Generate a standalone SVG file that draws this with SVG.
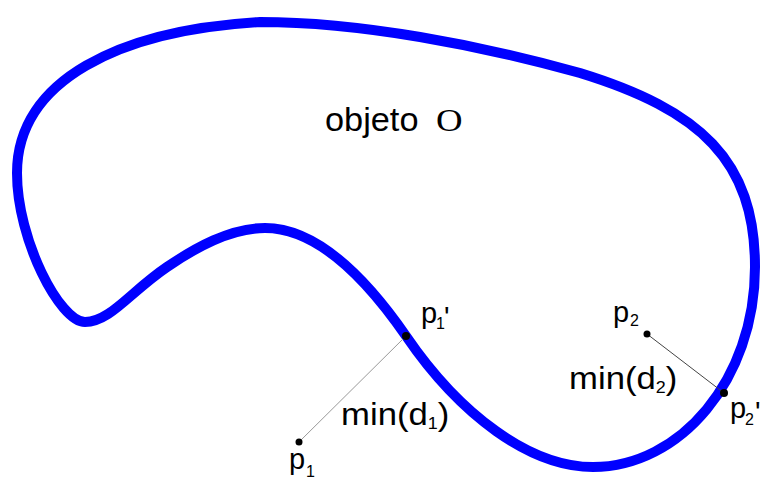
<svg xmlns="http://www.w3.org/2000/svg" width="760" height="480" viewBox="0 0 760 480">
<style>
.curve{fill:none;stroke:#0000ff;stroke-width:10;stroke-linejoin:round}
.lbl{font-family:"Liberation Sans",Arial,sans-serif;fill:#000}
.ser{font-family:"Liberation Serif","Times New Roman",serif;fill:#000}
.dot{fill:#000}
.conn{stroke-width:1;fill:none}
</style>
<rect width="760" height="480" fill="#fff"/>
<g id="objeto">
<path class="curve" d="M 260 22 C 360 22, 480 45, 580 73 C 700 110, 755 160, 755 267 C 755 380, 680 467, 593 467 C 530 467, 460 415, 406 336 C 370 284, 320 228, 265 228 C 230 228, 195 248, 167 267 C 130 292, 110 322, 85 322 C 60 322, 17 240, 17 173 C 17 80, 120 30, 260 22 Z"/>
<text class="lbl" font-size="33" transform="translate(325,131) scale(1.04,1)">objeto</text>
<text class="ser" font-size="32" transform="translate(436,131) scale(1.15,1)">O</text>
</g>
<g id="connectors">
<line class="conn" x1="299" y1="442" x2="406" y2="336" stroke="#999"/>
<line class="conn" x1="647" y1="334" x2="724" y2="393" stroke="#444"/>
<text class="lbl" font-size="31" transform="translate(341,425) scale(1.12,1)">min(d<tspan font-size="16" dy="4">1</tspan><tspan dy="-4">)</tspan></text>
<text class="lbl" font-size="31" transform="translate(569,389) scale(1.12,1)">min(d<tspan font-size="16" dy="4">2</tspan><tspan dy="-4">)</tspan></text>
</g>
<g id="p1">
<circle class="dot" cx="299" cy="442" r="3.5"/>
<text class="lbl" font-size="29" y="469"><tspan x="289">p</tspan><tspan x="306" y="477" font-size="16">1</tspan></text>
</g>
<g id="p1prime">
<circle class="dot" cx="406" cy="336" r="4"/>
<text class="lbl" font-size="29" y="323"><tspan x="421">p</tspan><tspan x="436" y="329" font-size="16">1</tspan><tspan x="444" y="327">'</tspan></text>
</g>
<g id="p2">
<circle class="dot" cx="647" cy="334" r="3.5"/>
<text class="lbl" font-size="29" y="322"><tspan x="613">p</tspan><tspan x="630" y="326" font-size="16">2</tspan></text>
</g>
<g id="p2prime">
<circle class="dot" cx="724" cy="393" r="4"/>
<text class="lbl" font-size="29" y="418"><tspan x="730">p</tspan><tspan x="745" y="425" font-size="16">2</tspan><tspan x="755" y="422">'</tspan></text>
</g>
</svg>
